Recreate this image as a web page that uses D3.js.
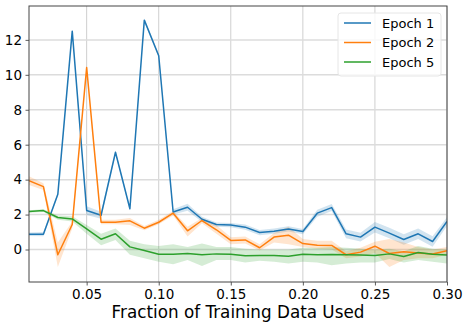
<!DOCTYPE html>
<html>
<head>
<meta charset="utf-8">
<script src="https://cdn.jsdelivr.net/npm/d3@7"></script>
<style>
  body { margin: 0; background: #fff; }
  svg { display: block; font-family: "DejaVu Sans", sans-serif; }
</style>
</head>
<body>
<svg id="chart" width="468" height="327"></svg>
<script>
// fraction of training data (x)
const fractions = [0.01,0.02,0.03,0.04,0.05,0.06,0.07,0.08,0.09,0.10,0.11,0.12,0.13,0.14,0.15,
                   0.16,0.17,0.18,0.19,0.20,0.21,0.22,0.23,0.24,0.25,0.26,0.27,0.28,0.29,0.30];

const epoch1 = [0.88,0.88,3.16,12.5,2.23,1.96,5.57,2.33,13.13,11.09,2.15,2.42,1.73,1.43,1.4,
                1.28,0.97,1.05,1.18,1.03,2.08,2.4,0.9,0.71,1.28,0.94,0.57,0.9,0.46,1.6];
const epoch1Lo = [0.78,0.76,3.06,12.4,1.98,1.76,5.47,2.23,13.03,10.99,2.0,2.22,1.58,1.31,1.28,
                  1.13,0.82,0.9,1.03,0.88,1.88,2.2,0.65,0.46,0.98,0.64,0.27,0.6,0.16,1.35];
const epoch1Hi = [0.98,1.0,3.26,12.6,2.48,2.16,5.67,2.43,13.23,11.19,2.3,2.62,1.88,1.55,1.52,
                  1.43,1.12,1.2,1.33,1.18,2.28,2.6,1.15,0.96,1.58,1.24,0.87,1.2,0.76,1.85];

const epoch2 = [3.94,3.6,-0.3,1.43,10.42,1.56,1.56,1.64,1.22,1.56,2.08,1.07,1.66,1.13,0.52,
                0.55,0.1,0.71,0.82,0.34,0.25,0.23,-0.3,-0.15,0.19,-0.23,-0.13,-0.2,-0.26,-0.07];
const epoch2Lo = [3.7,3.4,-1.0,1.2,10.3,1.45,1.45,1.4,1.1,1.45,1.95,0.75,1.5,0.9,0.3,
                  0.35,-0.05,0.4,0.3,0.15,0.05,0.0,-0.5,-0.4,-0.2,-1.0,-0.6,-0.5,-0.5,-0.3];
const epoch2Hi = [4.2,3.8,0.4,1.6,10.5,1.7,1.7,1.8,1.35,1.7,2.2,1.3,1.8,1.4,0.7,
                  0.75,0.3,0.95,1.3,0.6,0.5,0.5,-0.1,0.1,0.45,0.6,0.4,0.15,0.0,0.15];

const epoch5 = [2.17,2.23,1.83,1.75,1.18,0.59,0.9,0.15,-0.06,-0.27,-0.27,-0.23,-0.3,-0.25,-0.27,
                -0.36,-0.34,-0.34,-0.38,-0.27,-0.3,-0.28,-0.3,-0.32,-0.34,-0.25,-0.4,-0.17,-0.27,-0.32];
const epoch5Lo = [2.1,2.15,1.7,1.6,0.9,0.25,0.55,-0.3,-0.5,-0.7,-0.85,-0.6,-0.95,-0.6,-0.6,
                  -0.75,-0.65,-0.7,-0.8,-0.7,-0.75,-0.9,-0.8,-0.75,-0.75,-0.55,-0.75,-0.6,-0.7,-0.8];
const epoch5Hi = [2.25,2.3,1.95,1.9,1.4,0.9,1.2,0.5,0.3,0.2,0.3,0.15,0.35,0.15,0.15,
                  0.05,0.0,0.0,0.0,0.1,0.1,0.15,0.1,0.05,0.0,0.05,-0.1,0.2,0.05,0.0];

const seriesNames = ["Epoch 1", "Epoch 2", "Epoch 5"];
const xTicks = [0.05, 0.10, 0.15, 0.20, 0.25, 0.30];
const yTicks = [0, 2, 4, 6, 8, 10, 12];

const colors = ["#1f77b4", "#ff7f0e", "#2ca02c"];
const series = [
    { name: seriesNames[0], v: epoch1, lo: epoch1Lo, hi: epoch1Hi, color: colors[0] },
    { name: seriesNames[1], v: epoch2, lo: epoch2Lo, hi: epoch2Hi, color: colors[1] },
    { name: seriesNames[2], v: epoch5, lo: epoch5Lo, hi: epoch5Hi, color: colors[2] }
];

const svg = d3.select("#chart");
const margin = { top: 6, right: 21, bottom: 45, left: 29 };
const width = 468 - margin.left - margin.right;
const height = 327 - margin.top - margin.bottom;

const x = d3.scaleLinear().domain([0.01, 0.30]).range([0, width]);
const y = d3.scaleLinear().domain([-1.86, 13.94]).range([height, 0]);

const g = svg.append("g").attr("transform", `translate(${margin.left},${margin.top})`);

// grid
g.append("g").selectAll("line").data(xTicks).join("line")
    .attr("x1", d => x(d)).attr("x2", d => x(d))
    .attr("y1", 0).attr("y2", height)
    .attr("stroke", "#cfcfcf").attr("stroke-width", 1);
g.append("g").selectAll("line").data(yTicks).join("line")
    .attr("x1", 0).attr("x2", width)
    .attr("y1", d => y(d)).attr("y2", d => y(d))
    .attr("stroke", "#dcdcdc").attr("stroke-width", 1.5);

svg.append("defs").append("clipPath").attr("id", "plotclip")
    .append("rect").attr("width", width).attr("height", height);
const plot = g.append("g").attr("clip-path", "url(#plotclip)");

const area = d3.area()
    .x((d, i) => x(fractions[i]))
    .y0(d => y(d[0])).y1(d => y(d[1]));
const line = d3.line()
    .x((d, i) => x(fractions[i]))
    .y(d => y(d));

series.forEach(s => {
    plot.append("path")
        .datum(s.lo.map((l, i) => [l, s.hi[i]]))
        .attr("d", area)
        .attr("fill", s.color).attr("fill-opacity", 0.2);
});
series.forEach(s => {
    plot.append("path")
        .datum(s.v)
        .attr("d", line)
        .attr("fill", "none")
        .attr("stroke", s.color).attr("stroke-width", 1.5)
        .attr("stroke-linejoin", "round");
});

// axes
const xAxis = g.append("g").attr("transform", `translate(0,${height})`)
    .call(d3.axisBottom(x).tickValues(xTicks).tickFormat(d3.format(".2f")).tickSizeOuter(0).tickSize(3.5).tickPadding(3.5));
const yAxis = g.append("g")
    .call(d3.axisLeft(y).tickValues(yTicks).tickSizeOuter(0).tickSize(3.5).tickPadding(3.5));
[xAxis, yAxis].forEach(a => {
    a.select(".domain").remove();
    a.selectAll(".tick line").attr("stroke", "#333").attr("stroke-width", 0.8);
    a.selectAll("text").attr("fill", "#000").style("font-size", "13.5px")
        .style("font-family", "'DejaVu Sans', sans-serif");
});

// frame
g.append("rect").attr("width", width).attr("height", height)
    .attr("fill", "none").attr("stroke", "#444").attr("stroke-width", 1);

// x label
svg.append("text")
    .attr("x", margin.left + width / 2).attr("y", 318)
    .attr("text-anchor", "middle")
    .style("font-size", "16.8px")
    .text("Fraction of Training Data Used");

// legend
const legend = g.append("g").attr("transform", `translate(${width - 109},${7})`);
legend.append("rect").attr("width", 103).attr("height", 63)
    .attr("rx", 3).attr("fill", "#fff").attr("fill-opacity", 0.8)
    .attr("stroke", "#e6e6e6").attr("stroke-width", 1);
const items = legend.selectAll(".item").data(series).join("g")
    .attr("transform", (d, i) => `translate(0,${10 + i * 19.5})`);
items.append("line").attr("x1", 6).attr("x2", 33)
    .attr("stroke", d => d.color).attr("stroke-width", 1.5);
items.append("text").attr("x", 44).attr("y", 4.5)
    .style("font-size", "13px").text(d => d.name);
</script>
</body>
</html>
